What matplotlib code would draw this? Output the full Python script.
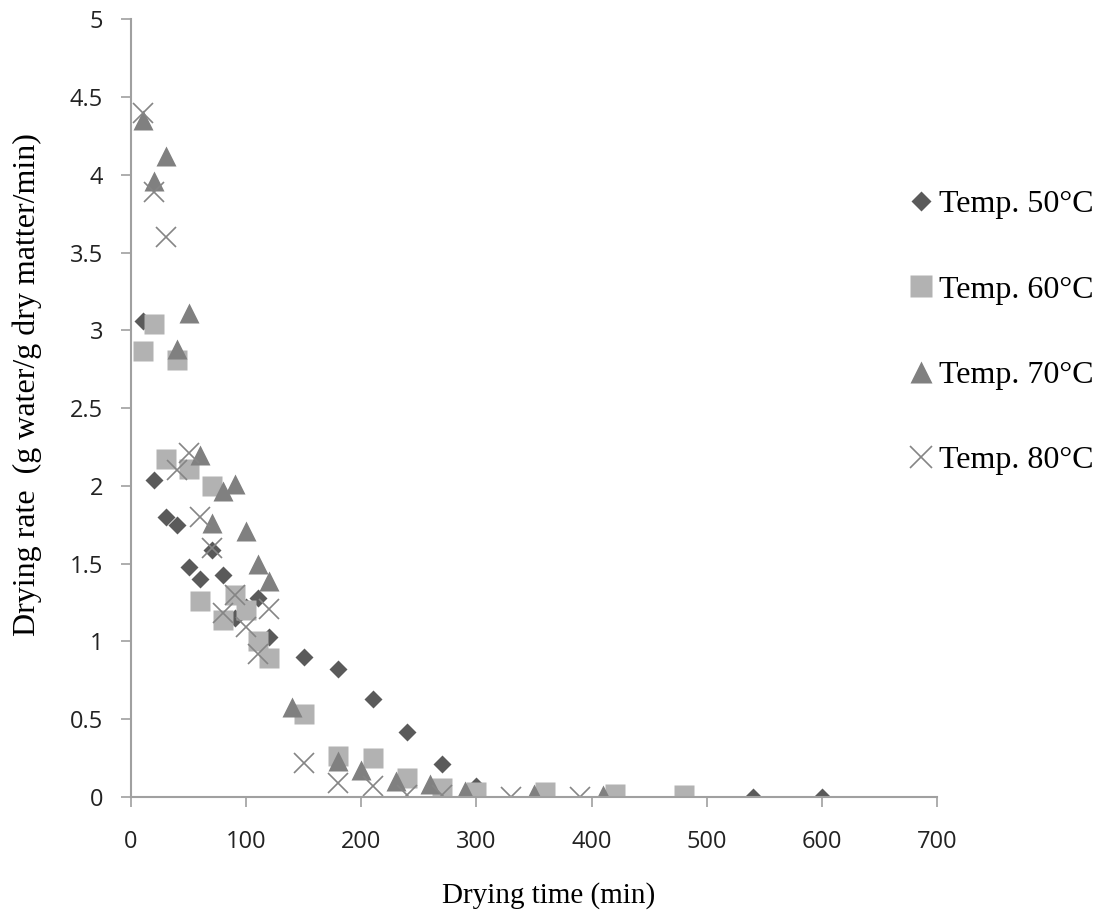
import matplotlib.pyplot as plt

# drying rate (g water / g dry matter / min) vs drying time (min)
t50 = [10, 20, 30, 40, 50, 60, 70, 80, 90, 100, 110, 120, 150, 180, 210, 240, 270, 300, 360, 420, 540, 600]
r50 = [3.06, 2.04, 1.80, 1.75, 1.48, 1.40, 1.59, 1.43, 1.15, 1.22, 1.28, 1.03, 0.90, 0.82, 0.63, 0.42, 0.21, 0.07, 0.02, 0.01, 0.0, 0.0]

t60 = [10, 20, 30, 40, 50, 60, 70, 80, 90, 100, 110, 120, 150, 180, 210, 240, 270, 300, 360, 420, 480]
r60 = [2.87, 3.04, 2.17, 2.81, 2.11, 1.26, 2.00, 1.14, 1.30, 1.20, 1.00, 0.89, 0.53, 0.26, 0.25, 0.12, 0.06, 0.03, 0.03, 0.02, 0.01]

t70 = [10, 20, 30, 40, 50, 60, 70, 80, 90, 100, 110, 120, 140, 180, 200, 230, 260, 290, 350, 410]
r70 = [4.35, 3.96, 4.12, 2.88, 3.11, 2.20, 1.76, 1.97, 2.01, 1.71, 1.50, 1.39, 0.58, 0.23, 0.17, 0.10, 0.08, 0.04, 0.02, 0.01]

t80 = [10, 20, 30, 40, 50, 60, 70, 80, 90, 100, 110, 120, 150, 180, 210, 240, 270, 330, 390]
r80 = [4.40, 3.89, 3.60, 2.10, 2.21, 1.80, 1.60, 1.18, 1.30, 1.09, 0.92, 1.21, 0.22, 0.09, 0.07, 0.01, 0.01, 0.0, 0.0]

labels = ['Temp. 50°C', 'Temp. 60°C', 'Temp. 70°C', 'Temp. 80°C']

fig = plt.figure(figsize=(11.01, 9.16), dpi=100)
ax = fig.add_axes([0.119, 0.13, 0.732, 0.849])

ax.plot(t50, r50, 'D', color='#5a5a5a', ms=9.5, mec='none', label=labels[0])
ax.plot(t60, r60, 's', color='#b2b2b2', ms=15, mec='none', label=labels[1])
ax.plot(t70, r70, '^', color='#808080', ms=15, mec='none', label=labels[2])
ax.plot(t80, r80, 'x', color='#858585', ms=15, mew=1.2, label=labels[3])

ax.set_xlim(0, 700)
ax.set_ylim(0, 5)
ax.set_xticks(range(0, 701, 100))
ax.set_yticks([0, 0.5, 1, 1.5, 2, 2.5, 3, 3.5, 4, 4.5, 5])
ax.set_yticklabels(['0', '0.5', '1', '1.5', '2', '2.5', '3', '3.5', '4', '4.5', '5'])

for s in ['top', 'right']:
    ax.spines[s].set_visible(False)
for s in ['left', 'bottom']:
    ax.spines[s].set_color('#a0a0a0')
    ax.spines[s].set_linewidth(1.5)
ax.tick_params(axis='both', direction='out', length=7, width=1.2, color='#a0a0a0',
               labelsize=17, labelcolor='#222222')
ax.tick_params(axis='x', pad=17)
ax.tick_params(axis='y', pad=13)
for lab in ax.get_xticklabels() + ax.get_yticklabels():
    lab.set_family('Open Sans')

ax.set_xlabel('Drying time (min)', family='Liberation Serif', fontsize=21, va='center')
ax.xaxis.set_label_coords(0.518, -0.127)
ax.set_ylabel('Drying rate  (g water/g dry matter/min)', family='Liberation Serif',
              fontsize=23, va='center')
ax.yaxis.set_label_coords(-0.129, 0.53)

ax.legend(loc='upper left', bbox_to_anchor=(910 / 1101, 1 - 190 / 916),
          bbox_transform=fig.transFigure, frameon=False,
          prop={'family': 'Liberation Serif', 'size': 23}, handlelength=0.7,
          handletextpad=0.2, labelspacing=1.75, borderpad=0, borderaxespad=0,
          markerscale=1.05)

fig.savefig('out.png', dpi=100)
